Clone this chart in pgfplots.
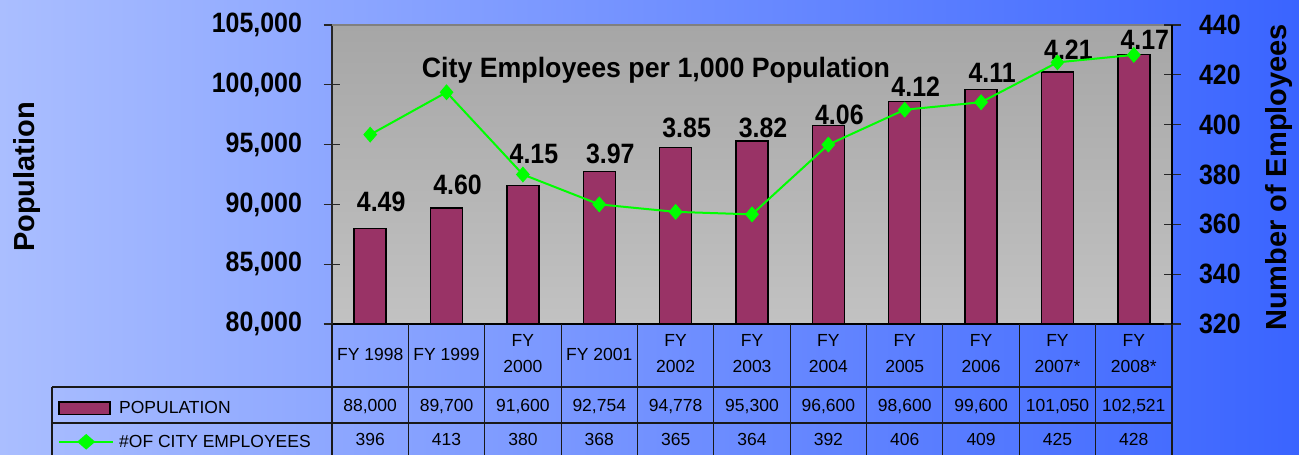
\documentclass[border=0pt]{standalone}
\usepackage{pgfplots}
\pgfplotsset{compat=1.18}
\usepackage{pgfplotstable}
\usepackage{graphicx}
\usepackage{fontspec}
\setmainfont{Liberation Sans}
\definecolor{bgL}{RGB}{170,190,255}
\definecolor{bgR}{RGB}{58,100,255}
\definecolor{plum}{RGB}{153,51,102}
\definecolor{lgreen}{RGB}{0,255,0}
\definecolor{plotTop}{RGB}{166,166,166}
\definecolor{plotBot}{RGB}{194,194,194}
\newcommand\bigfont{\fontsize{28}{30}\selectfont\bfseries}
\newcommand\tabfont{\fontsize{17.5}{26}\selectfont}
\newcommand\cond[1]{\scalebox{0.89}[1]{#1}}

\pgfplotstableread{
x pop emp
0 88000 396
1 89700 413
2 91600 380
3 92754 368
4 94778 365
5 95300 364
6 96600 392
7 98600 406
8 99600 409
9 101050 425
10 102521 428
}\data

\begin{document}
\begin{tikzpicture}
\fill[left color=bgL, right color=bgR] (0pt,0pt) rectangle (1299pt,455pt);

\begin{axis}[
  at={(332pt,131pt)}, anchor=south west,
  width=840pt, height=299pt, scale only axis,
  xmin=-0.5, xmax=10.5, ymin=80000, ymax=105000,
  axis x line*=bottom, axis y line*=left,
  x axis line style={-, black, line width=1.2pt},
  y axis line style={-, black!85, line width=1.2pt},
  xtick=\empty,
  ytick={80000,85000,90000,95000,100000,105000},
  yticklabels={{\cond{80,000}},{\cond{85,000}},{\cond{90,000}},{\cond{95,000}},{\cond{100,000}},{\cond{105,000}}},
  scaled y ticks=false,
  yticklabel style={font=\bigfont, xshift=-18pt},
  tick align=center, major tick length=17pt,
  ytick style={black!85, line width=1.2pt},
  axis background/.style={top color=plotTop, bottom color=plotBot},
  legend cell align=left,
  legend style={at={(axis description cs:-0.3262,-0.2575)}, anchor=north west,
    draw=none, fill=none, inner sep=0pt, row sep=19pt, column sep=5pt,
    font=\tabfont, nodes={inner sep=0pt}},
]
\addplot[ybar, bar width=32pt, fill=plum, draw=black, line width=1.5pt,
  legend image code/.code={\draw[fill=plum, draw=black, line width=1.5pt] (0pt,-6.3pt) rectangle (51pt,6.3pt);}]
  table[x=x, y=pop] {\data};
\addlegendentry{POPULATION}
\addlegendimage{lgreen, line width=2pt, mark=diamond*, mark size=6.5pt,
  mark options={xscale=1.15, fill=lgreen, draw=lgreen},
  legend image code/.code={\draw[lgreen, line width=2pt] (0pt,0pt) -- (54pt,0pt); \draw[lgreen, fill=lgreen] (27pt,6.5pt) -- (34.5pt,0pt) -- (27pt,-6.5pt) -- (19.5pt,0pt) -- cycle;}}
\addlegendentry{\#OF CITY EMPLOYEES}

\addplot[draw=none, mark=none, forget plot, nodes near coords={\cond{\pgfplotspointmeta}},
  point meta=explicit symbolic,
  every node near coord/.append style={anchor=base, xshift=11pt, font=\bigfont, inner sep=0pt}]
  coordinates {
  (0,89365) [4.49]
  (1,90786) [4.60]
  (2,93378) [4.15]
  (3,93378) [3.97]
  (4,95635) [3.85]
  (5,95635) [3.82]
  (6,96722) [4.06]
  (7,98980) [4.12]
  (8,100151) [4.11]
  (9,102074) [4.21]
  (10,102910) [4.17]
  };
\node[anchor=base, font=\bigfont, inner sep=0pt] at (rel axis cs:0.3857,0.826)
  {\scalebox{0.955}[1]{City Employees per 1,000 Population}};
\draw[black!50, line width=1.5pt] (rel axis cs:0,1) -- (rel axis cs:1,1);
\end{axis}

\begin{axis}[
  at={(332pt,131pt)}, anchor=south west,
  width=840pt, height=299pt, scale only axis,
  xmin=-0.5, xmax=10.5, ymin=320, ymax=440,
  axis x line=none, axis y line*=right,
  y axis line style={-, black, line width=1.2pt},
  ytick={320,340,360,380,400,420,440},
  yticklabels={{\cond{320}},{\cond{340}},{\cond{360}},{\cond{380}},{\cond{400}},{\cond{420}},{\cond{440}}},
  yticklabel style={font=\bigfont, xshift=15pt},
  tick align=center, major tick length=17pt,
  ytick style={black!85, line width=1.2pt},
]
\addplot[lgreen, line width=2pt, mark=diamond*, mark size=6.5pt,
  mark options={xscale=1.15, fill=lgreen, draw=lgreen}]
  table[x=x, y=emp] {\data};
\end{axis}

% axis titles
\node[rotate=90, font=\fontsize{29}{31}\selectfont\bfseries] at (27pt,278pt) {Population};
\node[rotate=90, font=\fontsize{29}{31}\selectfont\bfseries] at (1279pt,278pt) {Number of Employees};

% data table
\begin{scope}[line width=1.1pt, black!90]
\draw (52pt,68pt) -- (1172pt,68pt);
\draw (52pt,32pt) -- (1172pt,32pt);
\draw (52pt,68pt) -- (52pt,0pt);
\foreach \k in {0,...,11}{
  \pgfmathsetmacro\xx{332+76.3636*\k}
  \draw (\xx pt,131pt) -- (\xx pt,0pt);
}
\end{scope}
\foreach \lab [count=\i from 0] in {{FY 1998},{FY 1999},{FY\\2000},{FY 2001},{FY\\2002},{FY\\2003},{FY\\2004},{FY\\2005},{FY\\2006},{FY\\2007*},{FY\\2008*}}{
  \pgfmathsetmacro\xx{332+76.3636*(\i+0.5)}
  \node[align=center, font=\tabfont, inner sep=0pt] at (\xx pt,101pt) {\lab};
}
\foreach \v [count=\i from 0] in {{88,000},{89,700},{91,600},{92,754},{94,778},{95,300},{96,600},{98,600},{99,600},{101,050},{102,521}}{
  \pgfmathsetmacro\xx{332+76.3636*(\i+0.5)}
  \node[font=\tabfont, inner sep=0pt] at (\xx pt,48pt) {\v};
}
\foreach \v [count=\i from 0] in {396,413,380,368,365,364,392,406,409,425,428}{
  \pgfmathsetmacro\xx{332+76.3636*(\i+0.5)}
  \node[font=\tabfont, inner sep=0pt] at (\xx pt,16pt) {\v};
}
\pgfresetboundingbox
\useasboundingbox (0pt,0pt) rectangle (1299pt,455pt);
\end{tikzpicture}
\end{document}
